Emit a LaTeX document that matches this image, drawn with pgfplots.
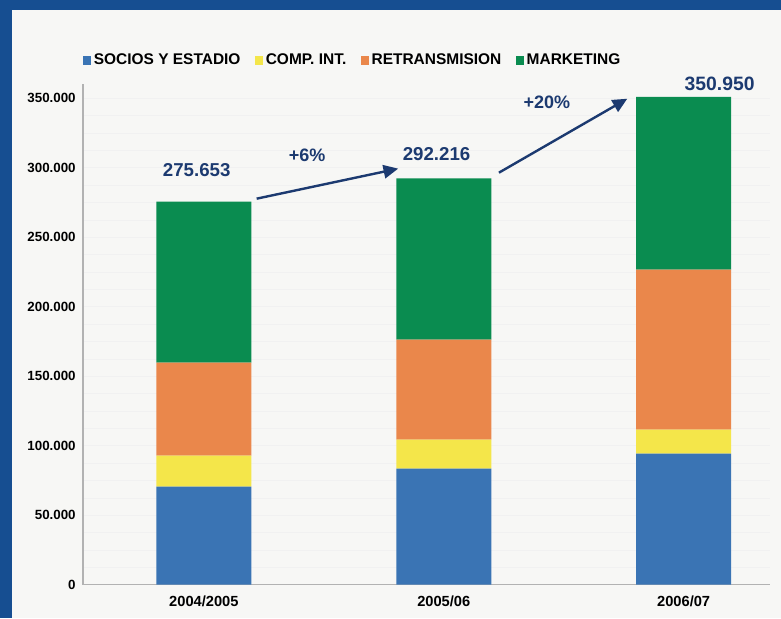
\documentclass[border=0pt]{standalone}
\usepackage{fontspec}
\setmainfont{Liberation Sans}
\usepackage{pgfplots}
\pgfplotsset{compat=1.18}
\usetikzlibrary{arrows.meta}
\definecolor{frameblue}{RGB}{22,78,145}
\definecolor{bgc}{RGB}{247,247,245}
\definecolor{cblue}{RGB}{58,116,180}
\definecolor{cyellow}{RGB}{244,230,74}
\definecolor{corange}{RGB}{234,135,75}
\definecolor{cgreen}{RGB}{10,140,80}
\definecolor{navy}{RGB}{28,58,112}
\begin{document}
\begin{tikzpicture}
\fill[frameblue] (0,0) rectangle (585.75pt,463.5pt);
\fill[bgc] (9pt,0) rectangle (585.75pt,456pt);
\path[use as bounding box] (0,0) rectangle (585.75pt,463.5pt);
\begin{axis}[
  at={(62.25pt,25pt)}, anchor=south west,
  scale only axis, width=515.25pt, height=375.3pt,
  xmin=-0.504, xmax=2.36, ymin=0, ymax=360000,
  ybar stacked, bar width=71.25pt,
  xtick={0,1,2}, xticklabels={2004/2005,2005/06,2006/07},
  ytick={0,50000,100000,150000,200000,250000,300000,350000},
  yticklabels={0,50.000,100.000,150.000,200.000,250.000,300.000,350.000},
  minor ytick={12500,25000,37500,62500,75000,87500,112500,125000,137500,162500,175000,187500,212500,225000,237500,262500,275000,287500,312500,325000,337500},
  scaled y ticks=false,
  axis x line*=bottom, axis y line*=left,
  axis line style={gray!60, line width=0.8pt},
  major tick length=0pt, minor tick length=0pt,
  ymajorgrids, yminorgrids,
  major grid style={gray!11, line width=0.4pt},
  minor grid style={gray!11, line width=0.4pt},
  yticklabel style={font=\bfseries\fontsize{10}{12}\selectfont, xshift=-2pt},
  xticklabel style={font=\bfseries\fontsize{11}{13}\selectfont, yshift=-5pt},
  clip=false,
  legend columns=4,
  legend style={at={(-0.006,1.048)}, anchor=west, draw=none, fill=none,
    font=\bfseries\fontsize{11.6}{13}\selectfont,
    /tikz/every even column/.append style={column sep=9pt}},
  legend image code/.code={\fill[#1] (0pt,-3.4pt) rectangle (6pt,3.4pt);},
]
\addplot[fill=cblue, draw=none] coordinates {(0,70500) (1,83500) (2,94200)};
\addlegendentry{SOCIOS Y ESTADIO}
\addplot[fill=cyellow, draw=none] coordinates {(0,22300) (1,20800) (2,17300)};
\addlegendentry{COMP. INT.}
\addplot[fill=corange, draw=none] coordinates {(0,66900) (1,72000) (2,115100)};
\addlegendentry{RETRANSMISION}
\addplot[fill=cgreen, draw=none] coordinates {(0,115953) (1,115916) (2,124350)};
\addlegendentry{MARKETING}
\node[font=\bfseries\fontsize{14}{16}\selectfont, text=navy] at (axis cs:-0.03,298000) {275.653};
\node[font=\bfseries\fontsize{13.5}{16}\selectfont, text=navy] at (axis cs:0.43,309000) {+6\%};
\node[font=\bfseries\fontsize{14}{16}\selectfont, text=navy] at (axis cs:0.97,309500) {292.216};
\node[font=\bfseries\fontsize{13.5}{16}\selectfont, text=navy] at (axis cs:1.43,347000) {+20\%};
\node[font=\bfseries\fontsize{14.5}{16}\selectfont, text=navy] at (axis cs:2.15,360500) {350.950};
\draw[navy, line width=1.8pt, -{Triangle[length=11pt,width=10pt]}] (axis cs:0.22,277700) -- (axis cs:0.81,299300);
\draw[navy, line width=1.8pt, -{Triangle[length=11pt,width=10pt]}] (axis cs:1.23,296400) -- (axis cs:1.765,349600);
\end{axis}
\end{tikzpicture}
\end{document}
